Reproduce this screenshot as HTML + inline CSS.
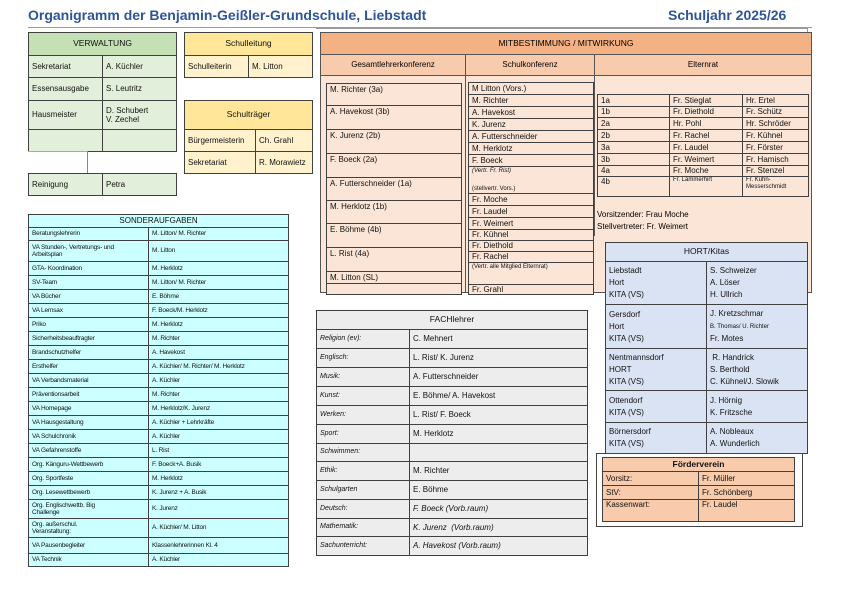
<!DOCTYPE html>
<html><head><meta charset="utf-8">
<style>
body{margin:0;width:842px;height:595px;background:#fff;position:relative;overflow:hidden;font-family:"Liberation Sans",Arial,sans-serif;}
.a{position:absolute;}
table{border-collapse:collapse;table-layout:fixed;position:absolute;}
td{border:1px solid #404040;padding:0 0 0 3px;font-size:8px;color:#111;white-space:nowrap;overflow:hidden;vertical-align:middle;line-height:1.15;}
td.h{text-align:center;padding:0;font-size:8.5px;}
.g td{background:#e2efda}.g td.h{background:#c5e0b4}
.y td{background:#fff2cc}.y td.h{background:#ffe699}
.cy td{background:#ccffff;font-size:6.5px;letter-spacing:-0.2px}
.cy td.h{font-size:8px;letter-spacing:0}
.pk td{background:#fbe5d6}
.bl td{background:#dae3f3}
.gr td{background:#ededed}
.gr td.i{font-style:italic;font-size:7px}
.fv td{background:#f8cbad}
</style></head><body>
<div class="a" style="left:28px;top:7px;font-size:14px;font-weight:bold;color:#2f5597;">Organigramm der Benjamin-Geißler-Grundschule, Liebstadt</div>
<div class="a" style="left:668px;top:7px;font-size:14px;font-weight:bold;color:#2f5597;">Schuljahr 2025/26</div>
<div class="a" style="left:28px;top:27px;width:784px;height:1px;background:#9a9a9a"></div>

<table class="g" style="left:28px;top:32px;width:148px"><col style="width:74px"><col style="width:74px">
<tr style="height:23px"><td class="h" colspan="2">VERWALTUNG</td></tr>
<tr style="height:22px"><td>Sekretariat</td><td>A. Küchler</td></tr>
<tr style="height:23px"><td>Essensausgabe</td><td>S. Leutritz</td></tr>
<tr style="height:29px"><td>Hausmeister</td><td>D. Schubert<br>V. Zechel</td></tr>
<tr style="height:22px"><td></td><td></td></tr></table>
<div class="a" style="left:87px;top:151px;width:1px;height:22px;background:#888"></div>
<div class="a" style="left:28px;top:151px;width:59px;height:1px;background:#aaa"></div>
<table class="g" style="left:28px;top:173px;width:148px"><col style="width:74px"><col style="width:74px">
<tr style="height:22px"><td>Reinigung</td><td>Petra</td></tr></table>

<table class="y" style="left:184px;top:32px;width:128px"><col style="width:64px"><col style="width:64px">
<tr style="height:23px"><td class="h" colspan="2">Schulleitung</td></tr>
<tr style="height:22px"><td>Schulleiterin</td><td>M. Litton</td></tr></table>
<table class="y" style="left:184px;top:100px;width:128px"><col style="width:71px"><col style="width:57px">
<tr style="height:29px"><td class="h" colspan="2">Schulträger</td></tr>
<tr style="height:22px"><td>Bürgermeisterin</td><td>Ch. Grahl</td></tr>
<tr style="height:22px"><td>Sekretariat</td><td>R. Morawietz</td></tr></table>

<table class="cy" style="left:28px;top:214px;width:260px"><col style="width:120px"><col style="width:140px">
<tr style="height:13px"><td class="h" colspan="2">SONDERAUFGABEN</td></tr>
<tr style="height:13px"><td>Beratungslehrerin</td><td>M. Litton/ M. Richter</td></tr>
<tr style="height:21px"><td>VA Stunden-, Vertretungs- und<br>Arbeitsplan</td><td>M. Litton</td></tr>
<tr style="height:14px"><td>GTA- Koordination</td><td>M. Herklotz</td></tr>
<tr style="height:14px"><td>SV-Team</td><td>M. Litton/ M. Richter</td></tr>
<tr style="height:14px"><td>VA Bücher</td><td>E. Böhme</td></tr>
<tr style="height:14px"><td>VA Lernsax</td><td>F. Boeck/M. Herklotz</td></tr>
<tr style="height:14px"><td>Priko</td><td>M. Herklotz</td></tr>
<tr style="height:14px"><td>Sicherheitsbeauftragter</td><td>M. Richter</td></tr>
<tr style="height:14px"><td>Brandschutzhelfer</td><td>A. Havekost</td></tr>
<tr style="height:14px"><td>Ersthelfer</td><td>A. Küchler/ M. Richter/ M. Herklotz</td></tr>
<tr style="height:14px"><td>VA Verbandsmaterial</td><td>A. Küchler</td></tr>
<tr style="height:14px"><td>Präventionsarbeit</td><td>M. Richter</td></tr>
<tr style="height:14px"><td>VA Homepage</td><td>M. Herklotz/K. Jurenz</td></tr>
<tr style="height:14px"><td>VA Hausgestaltung</td><td>A. Küchler + Lehrkräfte</td></tr>
<tr style="height:14px"><td>VA Schulchronik</td><td>A. Küchler</td></tr>
<tr style="height:14px"><td>VA Gefahrenstoffe</td><td>L. Rist</td></tr>
<tr style="height:14px"><td>Org. Känguru-Wettbewerb</td><td>F. Boeck+A. Busik</td></tr>
<tr style="height:14px"><td>Org. Sportfeste</td><td>M. Herklotz</td></tr>
<tr style="height:14px"><td>Org. Lesewettbewerb</td><td>K. Jurenz + A. Busik</td></tr>
<tr style="height:19px"><td>Org. Englischwettb. Big<br>Challenge</td><td>K. Jurenz</td></tr>
<tr style="height:19px"><td>Org. außerschul.<br>Veranstaltung:</td><td>A. Küchler/ M. Litton</td></tr>
<tr style="height:16px"><td>VA Pausenbegleiter</td><td>Klassenlehrerinnen Kl. 4</td></tr>
<tr style="height:13px"><td>VA Technik</td><td>A. Küchler</td></tr></table>

<!-- Mitbestimmung -->
<div class="a" style="left:316px;top:28px;width:491px;height:268px;border-top:1px solid #999;border-right:1px solid #999"></div>
<div class="a" style="left:320px;top:32px;width:492px;height:261px;background:#fbe5d6;border:1px solid #555;box-sizing:border-box"></div>
<div class="a" style="left:320px;top:32px;width:492px;height:23px;background:#f4b183;border:1px solid #555;box-sizing:border-box;font-size:8.5px;text-align:center;line-height:21px">MITBESTIMMUNG / MITWIRKUNG</div>
<div class="a" style="left:320px;top:54px;width:146px;height:22px;background:#f8cbad;border:1px solid #555;box-sizing:border-box;font-size:8px;text-align:center;line-height:20px">Gesamtlehrerkonferenz</div>
<div class="a" style="left:465px;top:54px;width:130px;height:22px;background:#f8cbad;border:1px solid #555;box-sizing:border-box;font-size:8px;text-align:center;line-height:20px">Schulkonferenz</div>
<div class="a" style="left:594px;top:54px;width:218px;height:22px;background:#f8cbad;border:1px solid #555;box-sizing:border-box;font-size:8px;text-align:center;line-height:20px">Elternrat</div>
<div class="a" style="left:465px;top:76px;width:1px;height:217px;background:#555"></div>
<div class="a" style="left:594px;top:76px;width:1px;height:160px;background:#555"></div>

<table class="pk" style="left:326px;top:83px;width:136px"><col>
<tr style="height:22px"><td style="vertical-align:top;padding-top:1px">M. Richter (3a)</td></tr>
<tr style="height:24px"><td style="vertical-align:top;padding-top:1px">A. Havekost (3b)</td></tr>
<tr style="height:24px"><td style="vertical-align:top;padding-top:1px">K. Jurenz (2b)</td></tr>
<tr style="height:24px"><td style="vertical-align:top;padding-top:1px">F. Boeck (2a)</td></tr>
<tr style="height:23px"><td style="vertical-align:top;padding-top:1px">A. Futterschneider (1a)</td></tr>
<tr style="height:23px"><td style="vertical-align:top;padding-top:1px">M. Herklotz (1b)</td></tr>
<tr style="height:24px"><td style="vertical-align:top;padding-top:1px">E. Böhme (4b)</td></tr>
<tr style="height:24px"><td style="vertical-align:top;padding-top:1px">L. Rist (4a)</td></tr>
<tr style="height:12px"><td>M. Litton (SL)</td></tr>
<tr style="height:11px"><td></td></tr></table>

<table class="pk" style="left:468px;top:82px;width:126px"><col>
<tr style="height:12px"><td>M Litton (Vors.)</td></tr>
<tr style="height:12px"><td>M. Richter</td></tr>
<tr style="height:12px"><td>A. Havekost</td></tr>
<tr style="height:12px"><td>K. Jurenz</td></tr>
<tr style="height:12px"><td>A. Futterschneider</td></tr>
<tr style="height:12px"><td>M. Herklotz</td></tr>
<tr style="height:12px"><td>F. Boeck</td></tr>
<tr style="height:21px"><td style="font-size:6px;font-style:italic;vertical-align:top;padding-top:1px">(Vertr. Fr. Rist)<div style="font-style:normal;margin-top:11px">(stellvertr. Vors.)</div></td></tr>
<tr style="height:12px"><td>Fr. Moche</td></tr>
<tr style="height:12px"><td>Fr. Laudel</td></tr>
<tr style="height:12px"><td>Fr. Weimert</td></tr>
<tr style="height:11px"><td>Fr. Kühnel</td></tr>
<tr style="height:11px"><td>Fr. Diethold</td></tr>
<tr style="height:11px"><td>Fr. Rachel</td></tr>
<tr style="height:22px"><td style="font-size:6px;vertical-align:top;padding-top:1px">(Vertr. alle Mitglied Elternrat)</td></tr>
<tr style="height:10px"><td>Fr. Grahl</td></tr></table>

<table class="pk" style="left:597px;top:94px;width:211px"><col style="width:72px"><col style="width:73px"><col style="width:66px">
<tr style="height:12px"><td>1a</td><td>Fr. Stieglat</td><td>Hr. Ertel</td></tr>
<tr style="height:11px"><td>1b</td><td>Fr. Diethold</td><td>Fr. Schütz</td></tr>
<tr style="height:12px"><td>2a</td><td>Hr. Pohl</td><td>Hr. Schröder</td></tr>
<tr style="height:12px"><td>2b</td><td>Fr. Rachel</td><td>Fr. Kühnel</td></tr>
<tr style="height:12px"><td>3a</td><td>Fr. Laudel</td><td>Fr. Förster</td></tr>
<tr style="height:12px"><td>3b</td><td>Fr. Weimert</td><td>Fr. Hamisch</td></tr>
<tr style="height:11px"><td>4a</td><td>Fr. Moche</td><td>Fr. Stenzel</td></tr>
<tr style="height:20px"><td style="vertical-align:top">4b</td><td style="font-size:6px;vertical-align:top">Fr. Lämmerhirt</td><td style="font-size:6px;vertical-align:top">Fr. Kühn-<br>Messerschmidt</td></tr></table>
<div class="a" style="left:597px;top:209px;font-size:8px;line-height:12px">Vorsitzender: Frau Moche<br>Stellvertreter: Fr. Weimert</div>

<table class="bl" style="left:605px;top:242px;width:202px"><col style="width:101px"><col style="width:101px">
<tr style="height:19px"><td class="h" colspan="2">HORT/Kitas</td></tr>
<tr style="height:43px"><td style="line-height:12px">Liebstadt<br>Hort<br>KITA (VS)</td><td style="line-height:12px">S. Schweizer<br>A. Löser<br>H. Ullrich</td></tr>
<tr style="height:44px"><td style="line-height:12px">Gersdorf<br>Hort<br>KITA (VS)</td><td style="line-height:12px">J. Kretzschmar<br><span style="font-size:6px">B. Thomas/ U. Richter</span><br>Fr. Motes</td></tr>
<tr style="height:42px"><td style="line-height:12px">Nentmannsdorf<br>HORT<br>KITA (VS)</td><td style="line-height:12px">&nbsp;R. Handrick<br>S. Berthold<br>C. Kühnel/J. Slowik</td></tr>
<tr style="height:32px"><td style="line-height:12px">Ottendorf<br>KITA (VS)</td><td style="line-height:12px">J. Hörnig<br>K. Fritzsche</td></tr>
<tr style="height:31px"><td style="line-height:12px">Börnersdorf<br>KITA (VS)</td><td style="line-height:12px">A. Nobleaux<br>A. Wunderlich</td></tr></table>

<div class="a" style="left:596px;top:453px;width:207px;height:74px;border:1px solid #444;box-sizing:border-box"></div>
<table class="fv" style="left:602px;top:457px;width:192px"><col style="width:96px"><col style="width:96px">
<tr style="height:14px"><td class="h" colspan="2" style="font-weight:bold">Förderverein</td></tr>
<tr style="height:14px"><td>Vorsitz:</td><td>Fr. Müller</td></tr>
<tr style="height:14px"><td>StV:</td><td>Fr. Schönberg</td></tr>
<tr style="height:22px"><td style="vertical-align:top">Kassenwart:</td><td style="vertical-align:top">Fr. Laudel</td></tr></table>

<table class="gr" style="left:316px;top:310px;width:271px"><col style="width:93px"><col style="width:178px">
<tr style="height:19px"><td class="h" colspan="2">FACHlehrer</td></tr>
<tr style="height:19px"><td class="i">Religion (ev):</td><td>C. Mehnert</td></tr>
<tr style="height:19px"><td class="i">Englisch:</td><td>L. Rist/ K. Jurenz</td></tr>
<tr style="height:19px"><td class="i">Musik:</td><td>A. Futterschneider</td></tr>
<tr style="height:19px"><td class="i">Kunst:</td><td>E. Böhme/ A. Havekost</td></tr>
<tr style="height:19px"><td class="i">Werken:</td><td>L. Rist/ F. Boeck</td></tr>
<tr style="height:19px"><td class="i">Sport:</td><td>M. Herklotz</td></tr>
<tr style="height:18px"><td class="i">Schwimmen:</td><td></td></tr>
<tr style="height:19px"><td class="i">Ethik:</td><td>M. Richter</td></tr>
<tr style="height:19px"><td class="i">Schulgarten</td><td>E. Böhme</td></tr>
<tr style="height:19px"><td class="i">Deutsch:</td><td style="font-style:italic">F. Boeck (Vorb.raum)</td></tr>
<tr style="height:18px"><td class="i">Mathematik:</td><td style="font-style:italic">K. Jurenz &nbsp;(Vorb.raum)</td></tr>
<tr style="height:19px"><td class="i">Sachunterricht:</td><td style="font-style:italic">A. Havekost (Vorb.raum)</td></tr></table>
</body></html>
